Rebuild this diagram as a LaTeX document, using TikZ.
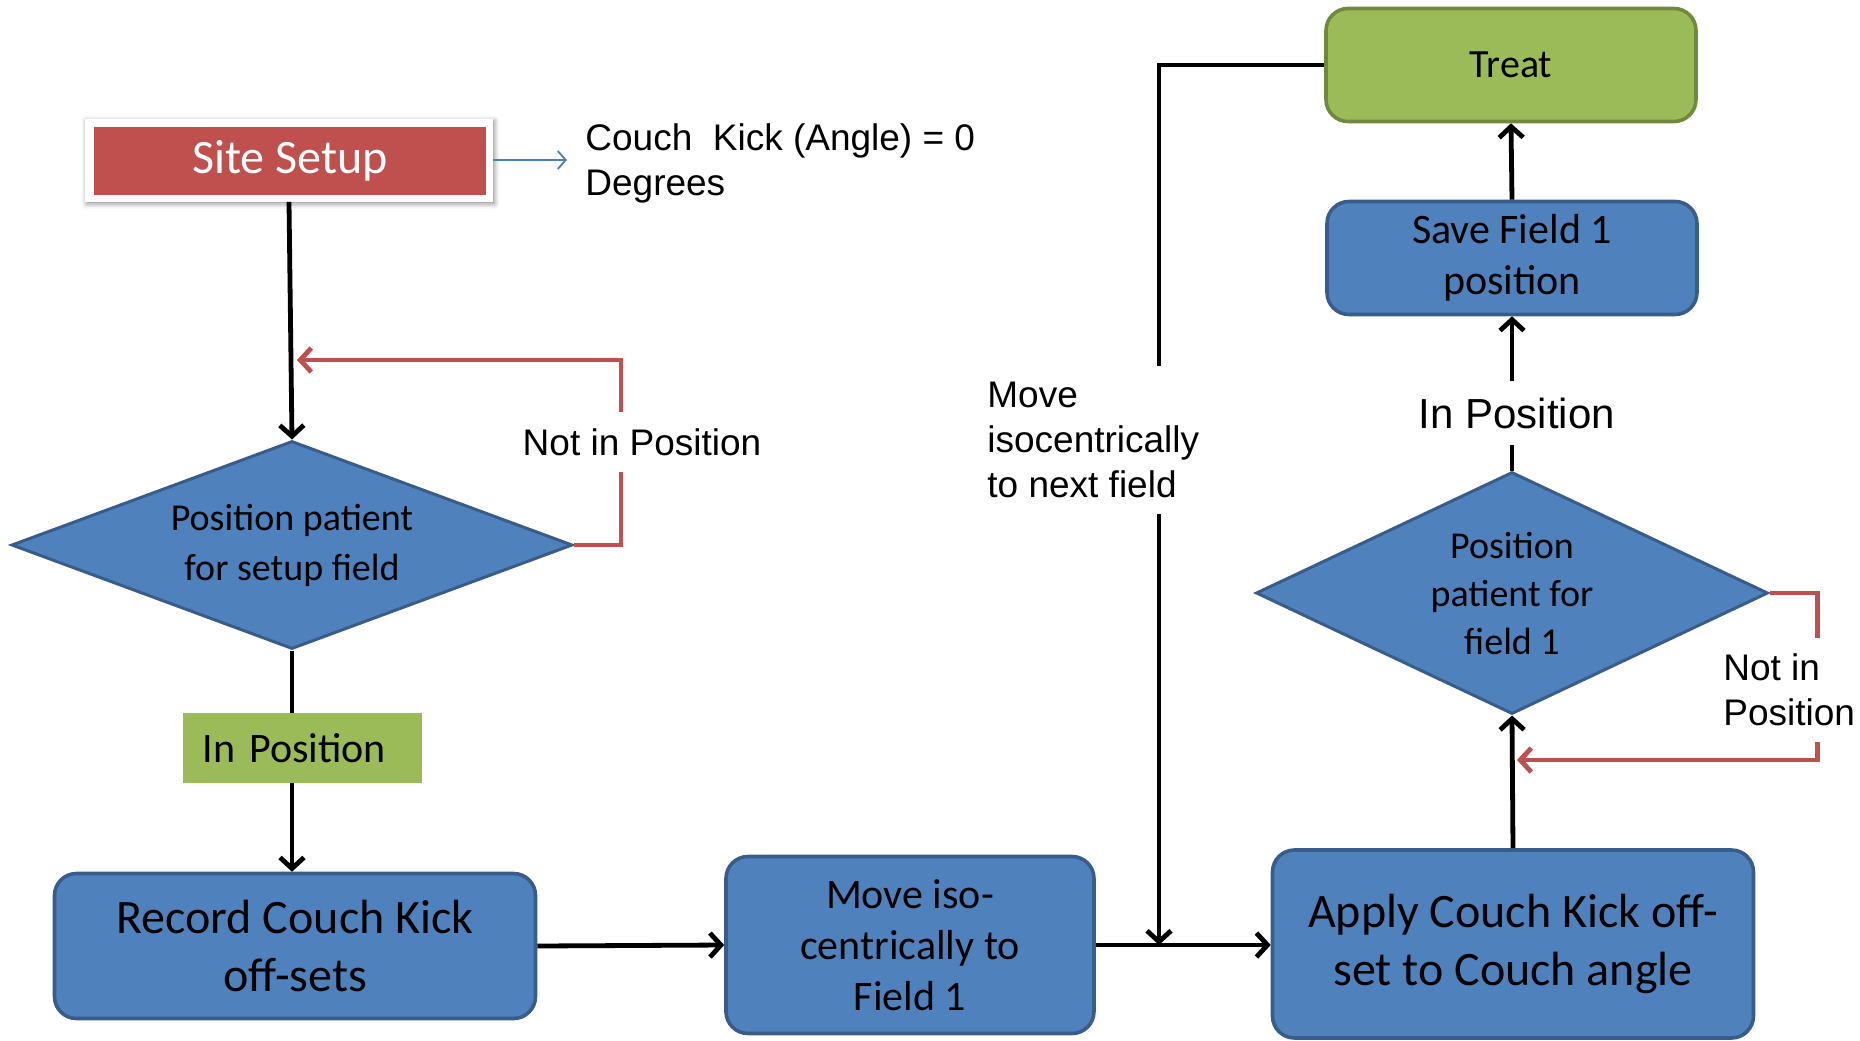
\documentclass[tikz,border=0pt]{standalone}
\usepackage{fontspec}
\setmainfont{Carlito}
\newfontfamily\arialf{Liberation Sans}
\usetikzlibrary{shapes.geometric,arrows.meta,shadows.blur}
\definecolor{bfill}{HTML}{4F81BD}
\definecolor{bdraw}{HTML}{385D8A}
\definecolor{gfill}{HTML}{9BBB59}
\definecolor{gdraw}{HTML}{71893F}
\definecolor{rfill}{HTML}{C0504D}
\definecolor{bline}{HTML}{4A7EBB}
\begin{document}
\begin{tikzpicture}[x=0.5pt,y=-0.5pt,
  procbox/.style={draw=bdraw, fill=bfill, line width=1.8pt, rounded corners=11pt, align=center, inner sep=0pt},
  decbox/.style={diamond, draw=bdraw, fill=bfill, line width=1.5pt, align=center, inner sep=0pt},
  flow/.style={line width=2.4pt, -{Straight Barb[length=5.5pt,width=12pt]}},
  plainflow/.style={line width=2.4pt},
  redflow/.style={draw=rfill, line width=2.4pt, -{Straight Barb[length=5.5pt,width=12pt]}},
  blueflow/.style={draw=bline, line width=0.9pt, -{Straight Barb[length=4pt,width=9pt]}},
  lbl/.style={font=\arialf\fontsize{18.5}{22.5}\selectfont, align=left, inner xsep=0pt},
]
\useasboundingbox (0,0) rectangle (1860,1040);

% Site Setup with white frame and soft shadow
\node[fill=white, minimum width=204pt, minimum height=41.5pt,
      blur shadow={shadow xshift=0.8pt, shadow yshift=-1.2pt, shadow blur radius=2.5pt, shadow opacity=45}] (siteframe) at (289,160) {};
\node[fill=rfill, minimum width=196pt, minimum height=34pt, inner sep=0pt,
      text=white, font=\fontsize{24}{29}\selectfont] (site) at (290,161) {Site Setup};
\node[lbl, anchor=west, inner xsep=9pt] (couch) at (567,163) {Couch\ \ Kick (Angle) = 0\\Degrees};

\node[decbox, shape aspect=2.7, minimum width=280.5pt, minimum height=104pt, font=\fontsize{19}{25}\selectfont] (d1) at (292,545) {Position patient\\for setup field};

\node[procbox, minimum width=240.5pt, minimum height=72.5pt, font=\fontsize{24}{29}\selectfont] (rec) at (295,946) {Record Couch Kick\\off-sets};
\node[procbox, minimum width=184pt, minimum height=88.5pt, font=\fontsize{21}{25.5}\selectfont] (move) at (910,945) {Move iso-\\centrically to\\Field 1};
\node[procbox, minimum width=240.5pt, minimum height=94pt, font=\fontsize{24}{29}\selectfont] (apply) at (1513,944) {Apply Couch Kick off-\\set to Couch angle};

\node[decbox, shape aspect=2.1, minimum width=256pt, minimum height=121pt, font=\fontsize{19}{24}\selectfont] (d2) at (1512,593) {Position\\patient for\\field 1};

\node[procbox, minimum width=185pt, minimum height=56.5pt, font=\fontsize{21}{25.5}\selectfont] (save) at (1512,258) {Save Field 1\\position};
\node[procbox, draw=gdraw, fill=gfill, minimum width=185pt, minimum height=56.5pt, font=\fontsize{20}{24}\selectfont] (treat) at (1511,65) {Treat};

\coordinate (lp1) at (297,360);
\coordinate (lp2) at (1517,760);
\coordinate (j) at (1159,945);

% connectors
\draw[blueflow] (siteframe.east) -- (couch.west |- siteframe.east);
\draw[flow] (siteframe.south) -- (d1.north);
\draw[flow] (d1.south) -- (d1.south |- rec.north);
\draw[redflow] (d1.east) -- ++(47,0) |- (lp1);
\draw[flow] (rec.east) -- (move.west);
\draw[flow] (move.east) -- (move.east -| apply.west);
\draw[flow] (treat.west) -| (j);
\draw[flow] (apply.north) -- (d2.south);
\draw[redflow] (d2.east) -- ++(48,0) |- (lp2);
\draw[flow] (save.north) -- (treat.south);

% labels drawn over connectors
\node[fill=gfill, minimum width=119.5pt, minimum height=35pt, text width=99.5pt, inner xsep=10pt, align=left,
      font=\fontsize{21}{25}\selectfont] (inpos1) at (302,748) {In Position};
\node[lbl, fill=white, inner ysep=8pt, inner xsep=2pt] (nip1) at (642,442) {Not in Position};
\node[lbl, fill=white, anchor=west, inner ysep=8pt] (moveiso) at (987,440) {Move\\isocentrically\\to next field};
\node[lbl, fill=white, anchor=west, inner ysep=8pt] (nip2) at (1723,690) {Not in\\Position};
\node[font=\arialf\fontsize{21}{25}\selectfont, inner ysep=8pt, inner xsep=0pt] (inpos2) at (1517,413) {In Position};

\draw[plainflow] (d2.north) -- (d2.north |- inpos2.south);
\draw[flow] (inpos2.north -| save.south) -- (save.south);
\end{tikzpicture}
\end{document}
